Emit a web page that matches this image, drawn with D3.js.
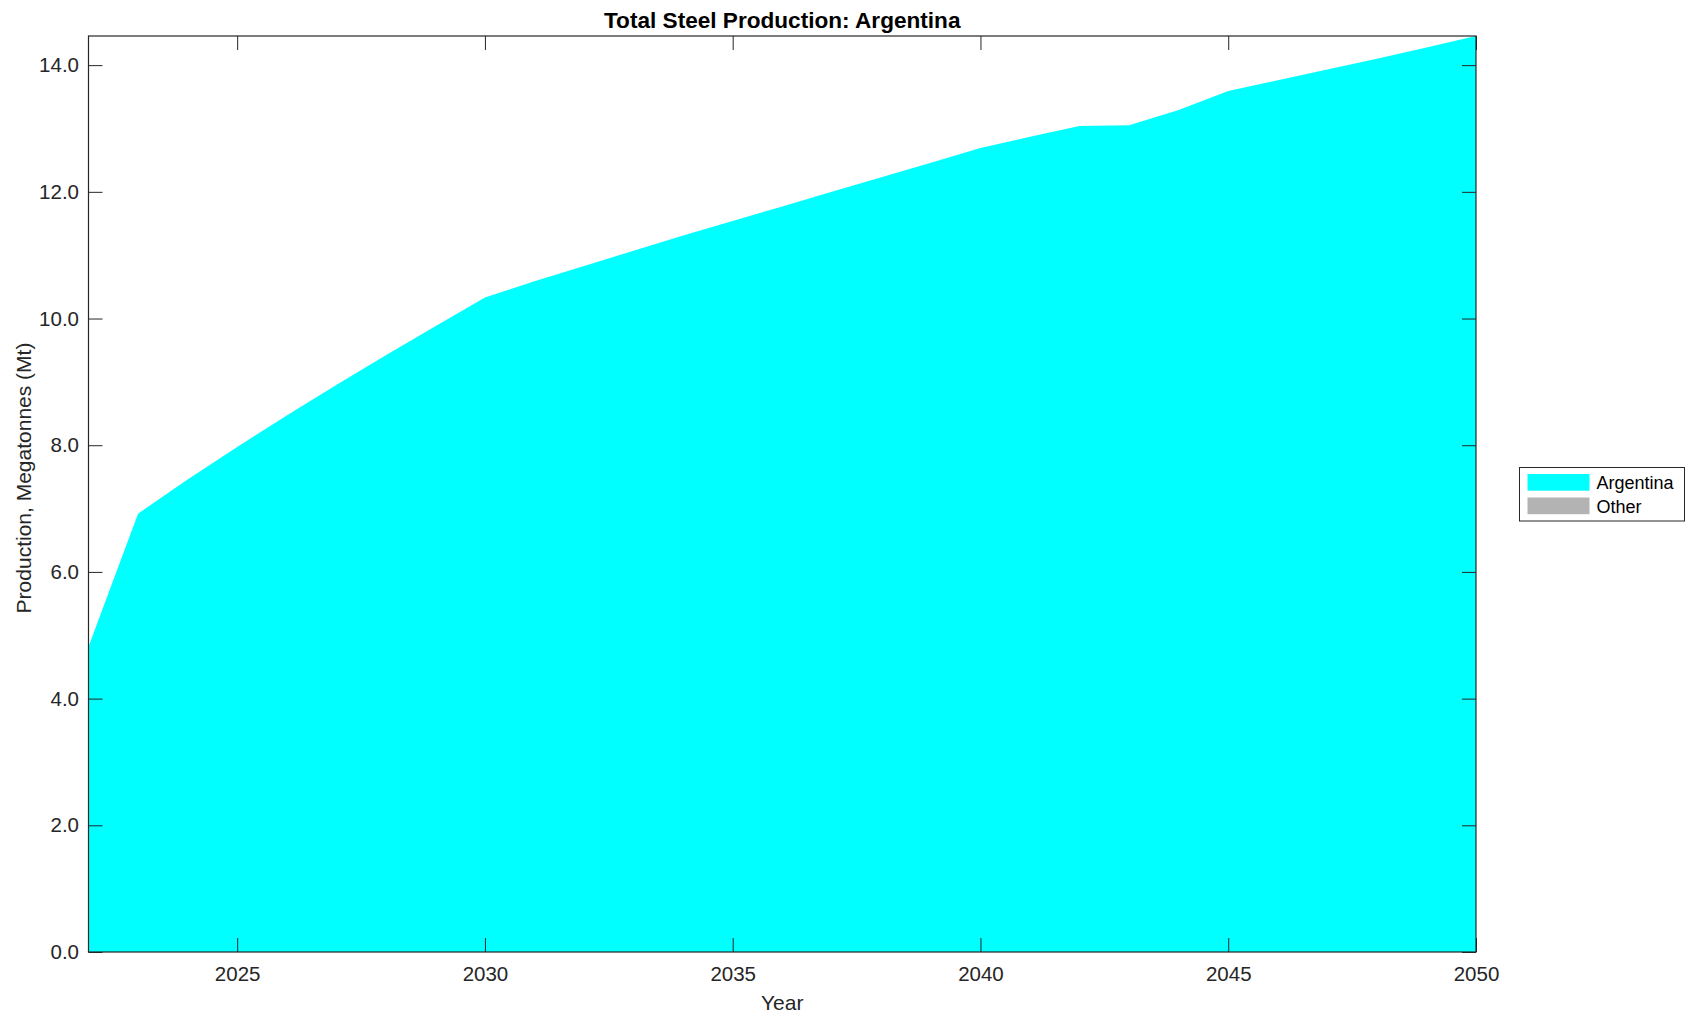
<!DOCTYPE html>
<html>
<head>
<meta charset="utf-8">
<script src="https://cdn.jsdelivr.net/npm/d3@7"></script>
<style>
  body { margin: 0; background: #fff; }
  text { font-family: "Liberation Sans", Arial, Helvetica, sans-serif; fill: #262626; }
</style>
</head>
<body>
<div class="myBox"></div>
<script>
// data
var years = [2022, 2023, 2024, 2025, 2026, 2027, 2028, 2029, 2030, 2031, 2032, 2033, 2034, 2035,
             2036, 2037, 2038, 2039, 2040, 2041, 2042, 2043, 2044, 2045, 2046, 2047, 2048, 2049, 2050];
var argentina = [4.82, 6.92, 7.46, 7.97, 8.47, 8.95, 9.42, 9.88, 10.33, 10.59, 10.83, 11.07, 11.31, 11.54,
                 11.77, 12.00, 12.23, 12.46, 12.69, 12.87, 13.04, 13.05, 13.29, 13.59, 13.76, 13.93, 14.10, 14.28, 14.46];
var other = [0, 0, 0, 0, 0, 0, 0, 0, 0, 0, 0, 0, 0, 0, 0, 0, 0, 0, 0, 0, 0, 0, 0, 0, 0, 0, 0, 0, 0];
var seriesNames = ["Argentina", "Other"];
var seriesColors = ["#00ffff", "#b3b3b3"];
var xTicks = [2025, 2030, 2035, 2040, 2045, 2050];
var yTicks = [0, 2, 4, 6, 8, 10, 12, 14];

var width = 1695;
var height = 1021;
// plot box (window.top is reserved, so no "top" here)
var plotLeft = 88.5, plotRight = 1476, plotTop = 36, plotBottom = 952;

var svg = d3.select(".myBox")
  .append("svg")
  .attr("width", width)
  .attr("height", height);

var table = years.map(function(y, i) { return { year: y, Argentina: argentina[i], Other: other[i] }; });
var stacked = d3.stack().keys(seriesNames)(table);

var x = d3.scaleLinear().domain([years[0], years[years.length - 1]]).range([plotLeft, plotRight]);
var ymax = d3.max(stacked[stacked.length - 1], function(d) { return d[1]; });
var y = d3.scaleLinear().domain([0, ymax]).range([plotBottom, plotTop]);

var area = d3.area()
  .x(function(d) { return x(d.data.year); })
  .y0(function(d) { return y(d[0]); })
  .y1(function(d) { return y(d[1]); });

svg.selectAll("path.area")
  .data(stacked)
  .enter().append("path")
    .attr("class", "area")
    .attr("d", area)
    .style("fill", function(d, i) { return seriesColors[i]; })
    .style("stroke", "none");

// axes, ticks point inward on every side
function styleAxis(g) {
  g.select(".domain").remove();
  g.selectAll(".tick line").attr("stroke", "#262626").attr("stroke-width", 1);
  g.selectAll(".tick text").style("font-size", "20.5px").attr("fill", "#262626");
}

svg.append("g")
  .attr("transform", "translate(0," + plotBottom + ")")
  .call(d3.axisBottom(x).tickValues(xTicks).tickFormat(d3.format("d")).tickSize(-14).tickPadding(14.5))
  .call(styleAxis);

svg.append("g")
  .attr("transform", "translate(0," + plotTop + ")")
  .call(d3.axisTop(x).tickValues(xTicks).tickFormat("").tickSize(-14))
  .call(styleAxis);

svg.append("g")
  .attr("transform", "translate(" + plotLeft + ",0)")
  .call(d3.axisLeft(y).tickValues(yTicks).tickFormat(d3.format(".1f")).tickSize(-14).tickPadding(9.5))
  .call(styleAxis);

svg.append("g")
  .attr("transform", "translate(" + plotRight + ",0)")
  .call(d3.axisRight(y).tickValues(yTicks).tickFormat("").tickSize(-14))
  .call(styleAxis);

svg.append("rect")
  .attr("x", plotLeft).attr("y", plotTop)
  .attr("width", plotRight - plotLeft).attr("height", plotBottom - plotTop)
  .style("fill", "none").style("stroke", "#262626").style("stroke-width", 1.2);

// title and labels
svg.append("text")
  .attr("x", (plotLeft + plotRight) / 2).attr("y", 27.5)
  .attr("text-anchor", "middle")
  .style("font-size", "22.6px").style("font-weight", "bold")
  .style("fill", "#000")
  .text("Total Steel Production: Argentina");

svg.append("text")
  .attr("x", (plotLeft + plotRight) / 2).attr("y", 1010)
  .attr("text-anchor", "middle")
  .style("font-size", "21px")
  .text("Year");

svg.append("text")
  .attr("transform", "translate(31,478) rotate(-90)")
  .attr("text-anchor", "middle")
  .style("font-size", "21px")
  .text("Production, Megatonnes (Mt)");

// legend
var legend = svg.append("g").attr("transform", "translate(1519.5,467.5)");
legend.append("rect")
  .attr("width", 165).attr("height", 53.5)
  .style("fill", "#fff").style("stroke", "#262626").style("stroke-width", 1);

var item = legend.selectAll("g.item")
  .data(seriesNames)
  .enter().append("g")
    .attr("class", "item")
    .attr("transform", function(d, i) { return "translate(0," + (i * 23.5) + ")"; });

item.append("rect")
  .attr("x", 8).attr("y", 6.5)
  .attr("width", 62).attr("height", 16.7)
  .style("fill", function(d, i) { return seriesColors[i]; });

item.append("text")
  .attr("x", 77).attr("y", 21.5)
  .style("font-size", "18px")
  .style("fill", "#000")
  .text(function(d) { return d; });
</script>
</body>
</html>
